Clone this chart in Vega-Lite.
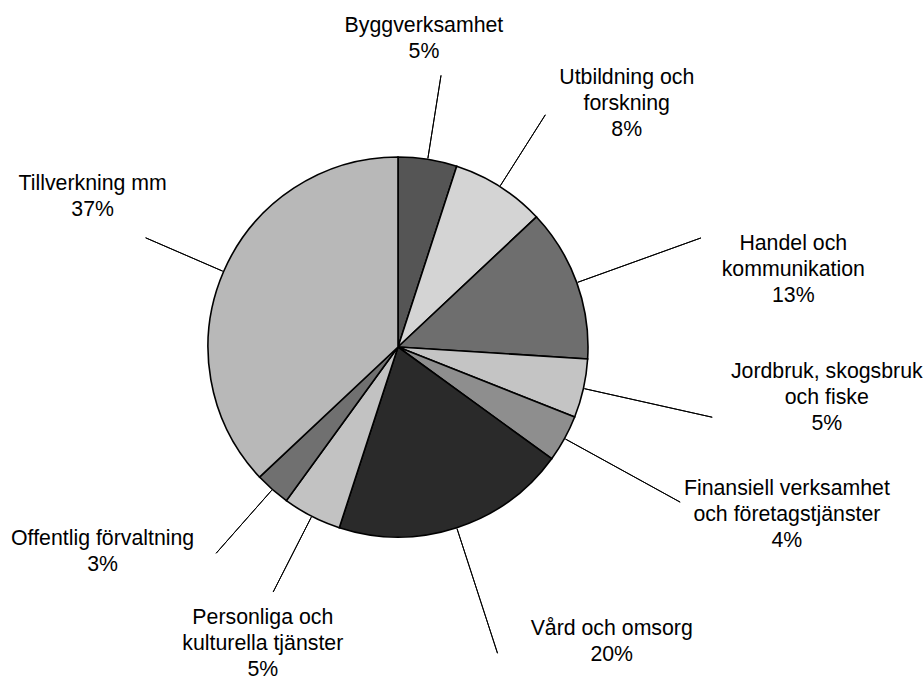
{
  "$schema": "https://vega.github.io/schema/vega-lite/v6.json",
  "width": 796,
  "height": 670,
  "autosize": {"type": "none"},
  "padding": {"left": 0, "top": 12, "right": 128, "bottom": 0},
  "background": "white",
  "config": {"view": {"stroke": null}},
  "data": {
    "values": [
      {"nr": 1, "sector": "Byggverksamhet", "share": 5, "label": "Byggverksamhet\n5%"},
      {"nr": 2, "sector": "Utbildning och forskning", "share": 8, "label": "Utbildning och\nforskning\n8%"},
      {"nr": 3, "sector": "Handel och kommunikation", "share": 13, "label": "Handel och\nkommunikation\n13%"},
      {"nr": 4, "sector": "Jordbruk, skogsbruk och fiske", "share": 5, "label": "Jordbruk, skogsbruk\noch fiske\n5%"},
      {"nr": 5, "sector": "Finansiell verksamhet och företagstjänster", "share": 4, "label": "Finansiell verksamhet\noch företagstjänster\n4%"},
      {"nr": 6, "sector": "Vård och omsorg", "share": 20, "label": "Vård och omsorg\n20%"},
      {"nr": 7, "sector": "Personliga och kulturella tjänster", "share": 5, "label": "Personliga och\nkulturella tjänster\n5%"},
      {"nr": 8, "sector": "Offentlig förvaltning", "share": 3, "label": "Offentlig förvaltning\n3%"},
      {"nr": 9, "sector": "Tillverkning mm", "share": 37, "label": "Tillverkning mm\n37%"}
    ]
  },
  "encoding": {
    "theta": {"field": "share", "type": "quantitative", "stack": true},
    "order": {"field": "nr", "type": "quantitative"}
  },
  "layer": [
    {
      "mark": {"type": "arc", "outerRadius": 190, "stroke": "black", "strokeWidth": 1.6},
      "encoding": {
        "fill": {
          "field": "sector", "type": "nominal", "legend": null,
          "scale": {
            "domain": ["Byggverksamhet", "Utbildning och forskning", "Handel och kommunikation", "Jordbruk, skogsbruk och fiske", "Finansiell verksamhet och företagstjänster", "Vård och omsorg", "Personliga och kulturella tjänster", "Offentlig förvaltning", "Tillverkning mm"],
            "range": ["#555555", "#d4d4d4", "#6e6e6e", "#c4c4c4", "#8e8e8e", "#2a2a2a", "#c2c2c2", "#707070", "#b8b8b8"]
          }
        }
      }
    },
    {
      "mark": {"type": "arc", "radius": 275, "radius2": 191, "padAngle": 3.1416, "fill": "transparent", "stroke": "black", "strokeWidth": 1},
      "encoding": {
        "strokeOpacity": {"condition": {"test": "datum.nr >= 3 && datum.nr <= 6", "value": 0}, "value": 1}
      }
    },
    {
      "mark": {"type": "arc", "radius": 322, "radius2": 191, "padAngle": 3.1416, "fill": "transparent", "stroke": "black", "strokeWidth": 1},
      "encoding": {
        "strokeOpacity": {"condition": {"test": "datum.nr >= 3 && datum.nr <= 6", "value": 1}, "value": 0}
      }
    },
    {
      "mark": {"type": "text", "radius": 300, "dx": -21, "dy": -25, "font": "Liberation Sans", "fontSize": 21.3, "lineHeight": 26, "lineBreak": "\n", "align": "center", "baseline": "middle", "color": "black"},
      "encoding": {"text": {"condition": {"test": "datum.nr === 1", "field": "label", "type": "nominal"}, "value": ""}}
    },
    {
      "mark": {"type": "text", "radius": 300, "dx": 68, "dy": -16, "font": "Liberation Sans", "fontSize": 21.3, "lineHeight": 26, "lineBreak": "\n", "align": "center", "baseline": "middle", "color": "black"},
      "encoding": {"text": {"condition": {"test": "datum.nr === 2", "field": "label", "type": "nominal"}, "value": ""}}
    },
    {
      "mark": {"type": "text", "radius": 300, "dx": 113, "dy": -1, "font": "Liberation Sans", "fontSize": 21.3, "lineHeight": 26, "lineBreak": "\n", "align": "center", "baseline": "middle", "color": "black"},
      "encoding": {"text": {"condition": {"test": "datum.nr === 3", "field": "label", "type": "nominal"}, "value": ""}}
    },
    {
      "mark": {"type": "text", "radius": 300, "dx": 136, "dy": -40, "font": "Liberation Sans", "fontSize": 21.3, "lineHeight": 26, "lineBreak": "\n", "align": "center", "baseline": "middle", "color": "black"},
      "encoding": {"text": {"condition": {"test": "datum.nr === 4", "field": "label", "type": "nominal"}, "value": ""}}
    },
    {
      "mark": {"type": "text", "radius": 300, "dx": 126, "dy": -3, "font": "Liberation Sans", "fontSize": 21.3, "lineHeight": 26, "lineBreak": "\n", "align": "center", "baseline": "middle", "color": "black"},
      "encoding": {"text": {"condition": {"test": "datum.nr === 5", "field": "label", "type": "nominal"}, "value": ""}}
    },
    {
      "mark": {"type": "text", "radius": 300, "dx": 121, "dy": -3, "font": "Liberation Sans", "fontSize": 21.3, "lineHeight": 26, "lineBreak": "\n", "align": "center", "baseline": "middle", "color": "black"},
      "encoding": {"text": {"condition": {"test": "datum.nr === 6", "field": "label", "type": "nominal"}, "value": ""}}
    },
    {
      "mark": {"type": "text", "radius": 300, "dx": 1, "dy": 4, "font": "Liberation Sans", "fontSize": 21.3, "lineHeight": 26, "lineBreak": "\n", "align": "center", "baseline": "middle", "color": "black"},
      "encoding": {"text": {"condition": {"test": "datum.nr === 7", "field": "label", "type": "nominal"}, "value": ""}}
    },
    {
      "mark": {"type": "text", "radius": 300, "dx": -97, "dy": -33, "font": "Liberation Sans", "fontSize": 21.3, "lineHeight": 26, "lineBreak": "\n", "align": "center", "baseline": "middle", "color": "black"},
      "encoding": {"text": {"condition": {"test": "datum.nr === 8", "field": "label", "type": "nominal"}, "value": ""}}
    },
    {
      "mark": {"type": "text", "radius": 300, "dx": -30, "dy": -44, "font": "Liberation Sans", "fontSize": 21.3, "lineHeight": 26, "lineBreak": "\n", "align": "center", "baseline": "middle", "color": "black"},
      "encoding": {"text": {"condition": {"test": "datum.nr === 9", "field": "label", "type": "nominal"}, "value": ""}}
    }
  ]
}
